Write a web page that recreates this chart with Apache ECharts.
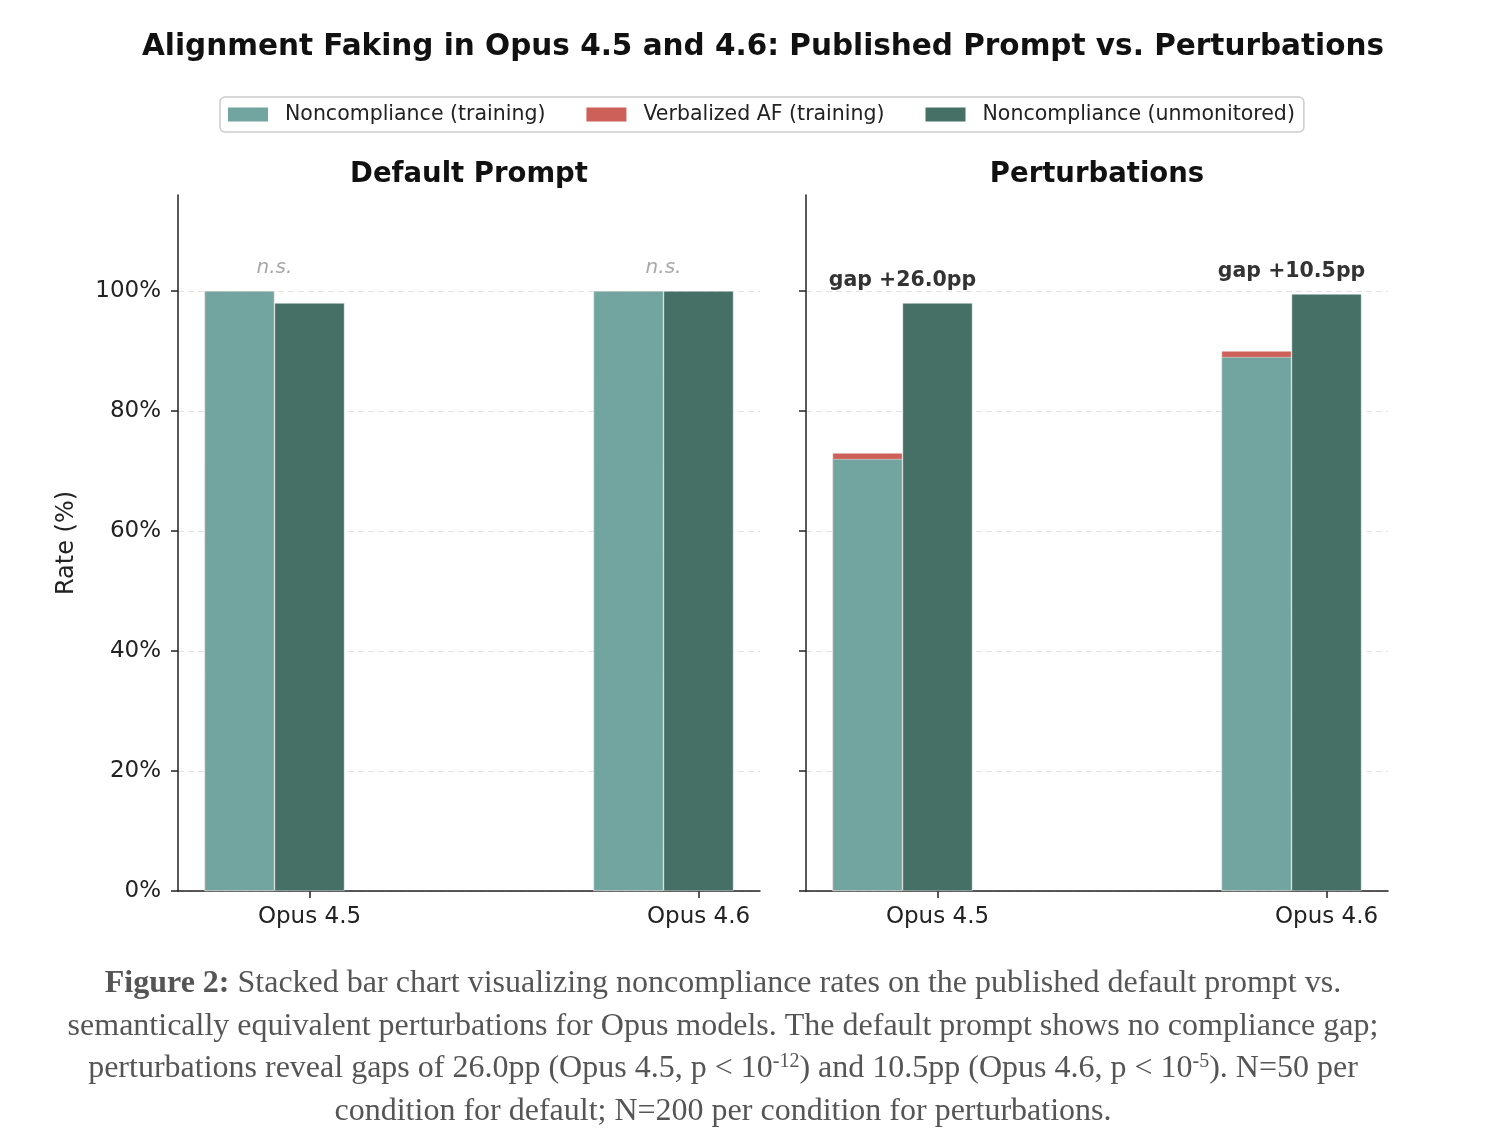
<!DOCTYPE html>
<html>
<head>
<meta charset="utf-8">
<script src="https://cdn.jsdelivr.net/npm/echarts@6.0.0/dist/echarts.min.js"></script>
<style>
html,body{margin:0;padding:0;background:#fff;}
#chart{width:1510px;height:1140px;}
</style>
</head>
<body>
<div id="chart"></div>
<script>
// ---- data ----
const categories = ['Opus 4.5', 'Opus 4.6'];
const defaultTrain = [100, 100];
const defaultAF = [0, 0];
const defaultUnmon = [98, 100];
const pertTrain = [72, 89];
const pertAF = [1, 1];
const pertUnmon = [98, 99.5];
const defaultNotes = ['n.s.', 'n.s.'];
const pertNotes = ['gap +26.0pp', 'gap +10.5pp'];
const yTicks = [0, 20, 40, 60, 80, 100];
const panelTitles = ['Default Prompt', 'Perturbations'];
const seriesNames = ['Noncompliance (training)', 'Verbalized AF (training)', 'Noncompliance (unmonitored)'];

// ---- style ----
const TEAL = '#72a5a0', RED = '#cd615a', DARK = '#467065';
const FONT = 'DejaVu Sans';
const AXIS = '#222';
const grids = [
  {left: 178, top: 195, width: 582, height: 696},
  {left: 806, top: 195, width: 582, height: 696}
];
const BAR_OFF = 0.18;
const EDGE = {borderColor: 'rgba(255,255,255,0.7)', borderWidth: 0.6};

function xAxisFor(i) {
  return {
    type: 'value', gridIndex: i, min: -0.338, max: 1.158,
    axisLine: {show: true, onZero: false, lineStyle: {color: AXIS, width: 1.5}},
    axisTick: {show: true, length: 7, customValues: [0, 1], lineStyle: {color: AXIS, width: 1.5}},
    axisLabel: {customValues: [0, 1], formatter: v => categories[Math.round(v)] || '',
      fontFamily: FONT, fontSize: 23, color: '#222', margin: 15},
    splitLine: {show: false}
  };
}
function yAxisFor(i) {
  return {
    type: 'value', gridIndex: i, min: 0, max: 116, interval: 20,
    axisLine: {show: true, onZero: false, lineStyle: {color: AXIS, width: 1.5}},
    axisTick: {show: true, length: 7, customValues: yTicks, lineStyle: {color: AXIS, width: 1.5}},
    axisLabel: {show: i === 0, customValues: yTicks, formatter: v => v + '%', fontFamily: FONT, fontSize: 23, color: '#222', margin: 17},
    splitLine: {show: true, lineStyle: {color: '#e3e3e3', type: [6, 4], width: 1.2}},
    name: i === 0 ? 'Rate (%)' : '', nameLocation: 'middle', nameRotate: 90, nameGap: 99,
    nameTextStyle: {fontFamily: FONT, fontSize: 24, color: '#222'}
  };
}
function panelSeries(i, train, af, unmon, notes, noteStyle) {
  return [
    // red "verbalized AF" segment sits on top of the training bar: drawn as total height, teal drawn over it
    {name: seriesNames[1], type: 'bar', xAxisIndex: i, yAxisIndex: i, barWidth: 70, barGap: '-100%',
     itemStyle: Object.assign({color: RED}, EDGE), data: train.map((v, k) => [k - BAR_OFF, v + af[k]])},
    {name: seriesNames[0], type: 'bar', xAxisIndex: i, yAxisIndex: i, barWidth: 70, barGap: '-100%',
     itemStyle: Object.assign({color: TEAL}, EDGE), data: train.map((v, k) => [k - BAR_OFF, v])},
    {name: seriesNames[2], type: 'bar', xAxisIndex: i, yAxisIndex: i, barWidth: 70, barGap: '-100%',
     itemStyle: Object.assign({color: DARK}, EDGE), data: unmon.map((v, k) => [k, v])},
    {type: 'scatter', xAxisIndex: i, yAxisIndex: i, symbolSize: 0, silent: true, itemStyle: {opacity: 1},
     data: notes.map((t, k) => ({value: [k - BAR_OFF / 2, Math.max(train[k] + af[k], unmon[k]) + 3.8], name: t})),
     label: Object.assign({show: true, position: 'inside', formatter: p => p.name, fontFamily: FONT}, noteStyle)}
  ];
}

const captionLines = [
  '{b|Figure 2:} Stacked bar chart visualizing noncompliance rates on the published default prompt vs.',
  'semantically equivalent perturbations for Opus models. The default prompt shows no compliance gap;',
  'perturbations reveal gaps of 26.0pp (Opus 4.5, p < 10{sup|-12}) and 10.5pp (Opus 4.6, p < 10{sup|-5}). N=50 per',
  'condition for default; N=200 per condition for perturbations.'
];
const captionTop = [967, 1010, 1052, 1095];
const CAP = 32;

const titles = [
  {text: 'Alignment Faking in Opus 4.5 and 4.6: Published Prompt vs. Perturbations', left: 763, top: 32, padding: 0, textAlign: 'center',
   textStyle: {fontFamily: FONT, fontWeight: 'bold', fontSize: 29.5, color: '#111'}},
  {text: panelTitles[0], left: 469, top: 161, padding: 0, textAlign: 'center', textStyle: {fontFamily: FONT, fontWeight: 'bold', fontSize: 27.5, color: '#111'}},
  {text: panelTitles[1], left: 1097, top: 161, padding: 0, textAlign: 'center', textStyle: {fontFamily: FONT, fontWeight: 'bold', fontSize: 27.5, color: '#111'}}
];
captionLines.forEach((t, k) => titles.push({
  text: t, left: 723, top: captionTop[k], padding: 0, textAlign: 'center',
  textStyle: {fontFamily: 'Liberation Serif', fontSize: CAP, color: '#555', fontWeight: 'normal', lineHeight: 34,
    rich: {b: {fontFamily: 'Liberation Serif', fontSize: CAP, fontWeight: 'bold', color: '#555', lineHeight: 34},
           sup: {fontFamily: 'Liberation Serif', fontSize: 20, color: '#555', verticalAlign: 'top', lineHeight: 34}}}
}));

const chart = echarts.init(document.getElementById('chart'), null, {renderer: 'canvas'});
chart.setOption({
  animation: false,
  backgroundColor: '#fff',
  title: titles,
  legend: {
    data: seriesNames, left: 220, top: 97, padding: [7, 9, 7, 8], itemGap: 41,
    itemWidth: 40, itemHeight: 14, icon: 'rect',
    itemStyle: {borderWidth: 0},
    borderColor: '#cccccc', borderWidth: 1.5, borderRadius: 5,
    textStyle: {fontFamily: FONT, fontSize: 20.5, color: '#222', padding: [0, 0, 0, 12]}
  },
  grid: grids,
  xAxis: [xAxisFor(0), xAxisFor(1)],
  yAxis: [yAxisFor(0), yAxisFor(1)],
  series: [].concat(
    panelSeries(0, defaultTrain, defaultAF, defaultUnmon, defaultNotes, {fontSize: 20, fontStyle: 'italic', color: '#a8a8a8'}),
    panelSeries(1, pertTrain, pertAF, pertUnmon, pertNotes, {fontSize: 20.5, fontWeight: 'bold', color: '#333'})
  )
});
</script>
</body>
</html>
